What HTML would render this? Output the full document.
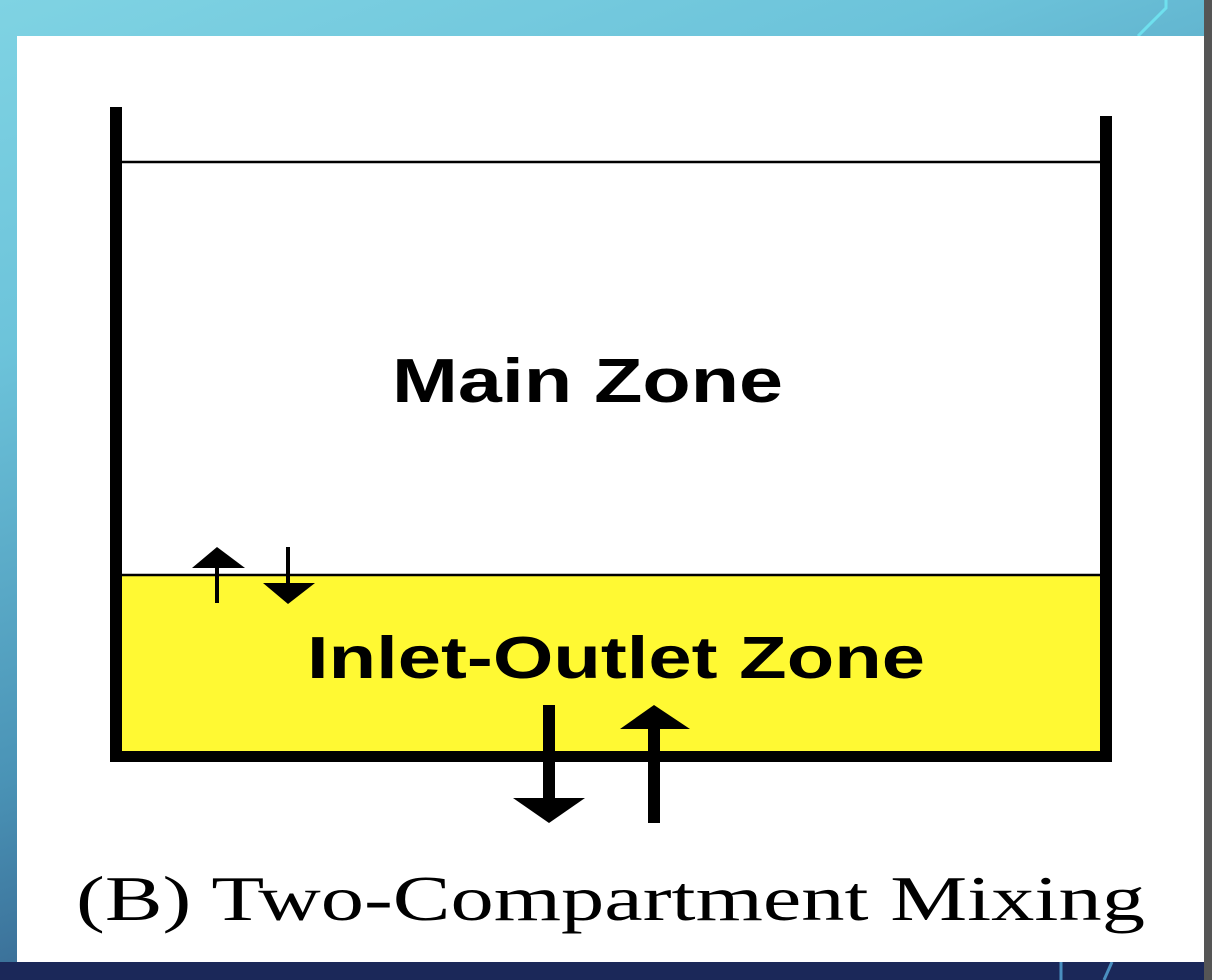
<!DOCTYPE html>
<html><head><meta charset="utf-8"><style>
html,body{margin:0;padding:0;width:1212px;height:980px;overflow:hidden}
body{background:linear-gradient(160deg,#7fd3e3 0%,#6cc3da 25%,#4a93b6 55%,#2e5380 80%,#1c2a5c 100%)}
</style></head><body>
<svg width="1212" height="980" style="position:absolute;left:0;top:0">
<rect x="0" y="962" width="1212" height="18" fill="#1b2859"/>
<rect x="1204" y="0" width="8" height="980" fill="#555"/>
<polyline points="1138,36 1166,8 1166,0" fill="none" stroke="#6fe0ee" stroke-width="3"/>
<line x1="1061" y1="962" x2="1061" y2="980" stroke="#4a8fc0" stroke-width="3"/>
<line x1="1112" y1="962" x2="1104" y2="980" stroke="#4a8fc0" stroke-width="3"/>
<rect x="17" y="36" width="1187" height="926" fill="#fff"/>
<rect x="116" y="575" width="990" height="181" fill="#fff933"/>
<line x1="116" y1="162" x2="1106" y2="162" stroke="#000" stroke-width="2.5"/>
<line x1="116" y1="575" x2="1106" y2="575" stroke="#000" stroke-width="2.5"/>
<rect x="110" y="107" width="12" height="655" fill="#000"/>
<rect x="1100" y="116" width="12" height="646" fill="#000"/>
<rect x="110" y="751" width="1002" height="11" fill="#000"/>
<text x="392" y="402" font-family="Liberation Sans,sans-serif" font-weight="bold" font-size="62" textLength="391" lengthAdjust="spacingAndGlyphs">Main Zone</text>
<text x="307" y="678" font-family="Liberation Sans,sans-serif" font-weight="bold" font-size="59" textLength="618" lengthAdjust="spacingAndGlyphs">Inlet-Outlet Zone</text>
<rect x="215" y="565" width="4" height="38" fill="#000"/>
<polygon points="217,547 192,568 245,568" fill="#000"/>
<rect x="286" y="547" width="4" height="38" fill="#000"/>
<polygon points="288,604 263,583 315,583" fill="#000"/>
<rect x="543" y="705" width="12" height="95" fill="#000"/>
<polygon points="549,823 513,798 585,798" fill="#000"/>
<rect x="648" y="727" width="12" height="96" fill="#000"/>
<polygon points="654,705 620,729 690,729" fill="#000"/>
<text x="76" y="920" font-family="Liberation Serif,serif" font-size="64" textLength="1069" lengthAdjust="spacingAndGlyphs">(B) Two-Compartment Mixing</text>
</svg>
</body></html>
